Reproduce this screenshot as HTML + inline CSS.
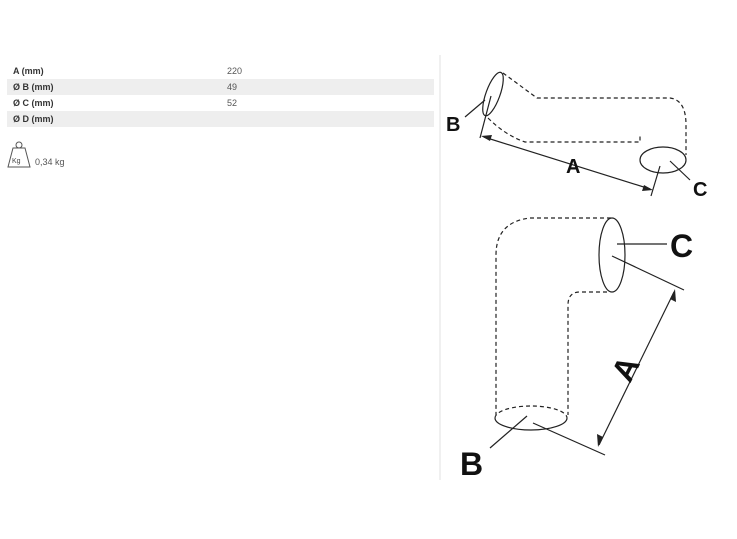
<!DOCTYPE html>
<html><head><style>
body{margin:0;width:737px;height:539px;background:#fff;font-family:"Liberation Sans",sans-serif;overflow:hidden;position:relative}
.row{position:absolute;left:7px;width:427px;height:16px;font-size:9px;color:#333;line-height:16px}
.row b{position:absolute;left:6px}
.row span{position:absolute;left:220px;color:#555}
.sh{background:#eeeeee}
</style></head><body>
<div class="row" style="top:63px"><b>A (mm)</b><span>220</span></div>
<div class="row sh" style="top:79px"><b>Ø B (mm)</b><span>49</span></div>
<div class="row" style="top:95px"><b>Ø C (mm)</b><span>52</span></div>
<div class="row sh" style="top:111px"><b>Ø D (mm)</b><span></span></div>
<svg style="position:absolute;left:0;top:0" width="737" height="539">
<line x1="440" y1="55" x2="440" y2="480" stroke="#f0f0f0" stroke-width="2"/>
<g fill="none" stroke="#555" stroke-width="1">
<circle cx="19" cy="145" r="3"/>
<path d="M13 148 H25 L30 167 H8 Z"/>
</g>
<text x="12" y="163" font-size="7" fill="#444">Kg</text>
<text x="35" y="165" font-size="9" fill="#555">0,34 kg</text>
<g fill="none" stroke="#222" stroke-width="1.2">
<ellipse cx="493" cy="94" rx="7" ry="23" transform="rotate(20 493 94)"/>
<path d="M503 73 L537 98 H670 Q686 100 686 125 V155" stroke-dasharray="4 3"/>
<path d="M488 118 Q505 135 525 142 H640 V136" stroke-dasharray="4 3"/>
<ellipse cx="663" cy="160" rx="23" ry="13"/>
<line x1="480" y1="138" x2="491" y2="96"/>
<line x1="651" y1="196" x2="660" y2="166"/>
<line x1="465" y1="117" x2="485" y2="100"/>
<line x1="670" y1="161" x2="690" y2="180"/>
<line x1="484" y1="137" x2="650" y2="189"/>
<path d="M611 218 H530 Q496 222 496 255 V415" stroke-dasharray="4 3"/>
<path d="M607 292 H580 Q568 292 568 305 V415" stroke-dasharray="4 3"/>
<ellipse cx="612" cy="255" rx="13" ry="37"/>
<path d="M495 418 A36 12 0 0 0 567 418"/>
<path d="M495 418 A36 12 0 0 1 567 418" stroke-dasharray="4 3"/>
<line x1="617" y1="244" x2="667" y2="244"/>
<line x1="612" y1="256" x2="684" y2="290"/>
<line x1="533" y1="423" x2="605" y2="455"/>
<line x1="490" y1="448" x2="527" y2="416"/>
<line x1="674" y1="292" x2="599" y2="445"/>
</g>
<g fill="#222">
<path d="M481 136 L492 135 L490 141 Z"/>
<path d="M653 190 L642 191 L644 185 Z"/>
<path d="M675 289 L676 302 L670 299 Z"/>
<path d="M598 447 L597 434 L603 437 Z"/>
</g>
<g font-family="Liberation Sans,sans-serif" font-weight="bold" fill="#111">
<text x="446" y="131" font-size="20">B</text>
<text x="566" y="173" font-size="20">A</text>
<text x="693" y="196" font-size="20">C</text>
<text x="670" y="257" font-size="32">C</text>
<text x="460" y="475" font-size="32">B</text>
<text x="0" y="0" font-size="32" transform="translate(630 384) rotate(-63)">A</text>
</g>
</svg>
</body></html>
